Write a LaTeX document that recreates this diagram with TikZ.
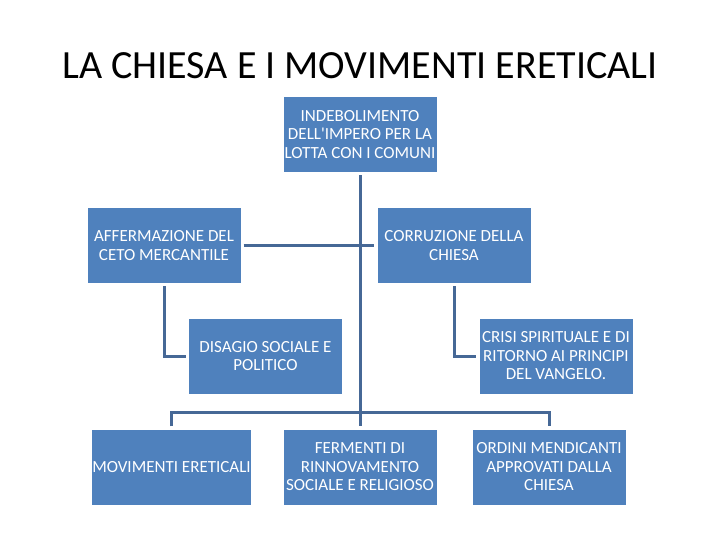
\documentclass[tikz,border=0pt]{standalone}
\usepackage{fontspec}
\setmainfont{Carlito}
\definecolor{boxblue}{RGB}{79,129,189}
\definecolor{lineblue}{RGB}{70,104,150}
\begin{document}
\begin{tikzpicture}[x=1pt, y=-1pt]
  % Styles
  \tikzstyle{box}=[rectangle, fill=boxblue, text=white, align=center, minimum width=153pt, minimum height=75pt, font=\fontsize{17}{18.5}\selectfont, inner sep=0pt]
  \tikzstyle{link}=[draw=lineblue, line width=3pt, shorten <=3pt, shorten >=3pt]

  \useasboundingbox[fill=white] (0,0) rectangle (720,540);

  % Title
  \node[font=\fontsize{40}{46}\selectfont] (title) at (360,66) {LA CHIESA E I MOVIMENTI ERETICALI};

  % Top row
  \node[box] (impero) at (360,134.5) {INDEBOLIMENTO\\DELL\textquotesingle IMPERO PER LA\\LOTTA CON I COMUNI};

  % Second row
  \node[box] (ceto) at (164,245.5) {AFFERMAZIONE DEL\\CETO MERCANTILE};
  \node[box] (corr) at (454,245.5) {CORRUZIONE DELLA\\CHIESA};

  % Third row
  \node[box] (disagio) at (265.5,356) {DISAGIO SOCIALE E\\POLITICO};
  \node[box] (crisi) at (556,356) {CRISI SPIRITUALE E DI\\RITORNO AI PRINCIPI\\DEL VANGELO.};

  % Bottom row
  \node[box] (eretici) at (171.5,467) {MOVIMENTI ERETICALI};
  \node[box] (fermenti) at (360,467) {FERMENTI DI\\RINNOVAMENTO\\SOCIALE E RELIGIOSO};
  \node[box] (ordini) at (549,467) {ORDINI MENDICANTI\\APPROVATI DALLA\\CHIESA};

  \coordinate (bus) at (360,412);

  % Connectors
  \draw[link] (impero) -- (fermenti);
  \draw[link] (ceto) -- (corr);
  \draw[link] (ceto.south) |- (disagio.west);
  \draw[link] (corr.south) |- (crisi.west);
  \draw[link] (eretici.north) |- (bus) -| (ordini.north);
\end{tikzpicture}
\end{document}
